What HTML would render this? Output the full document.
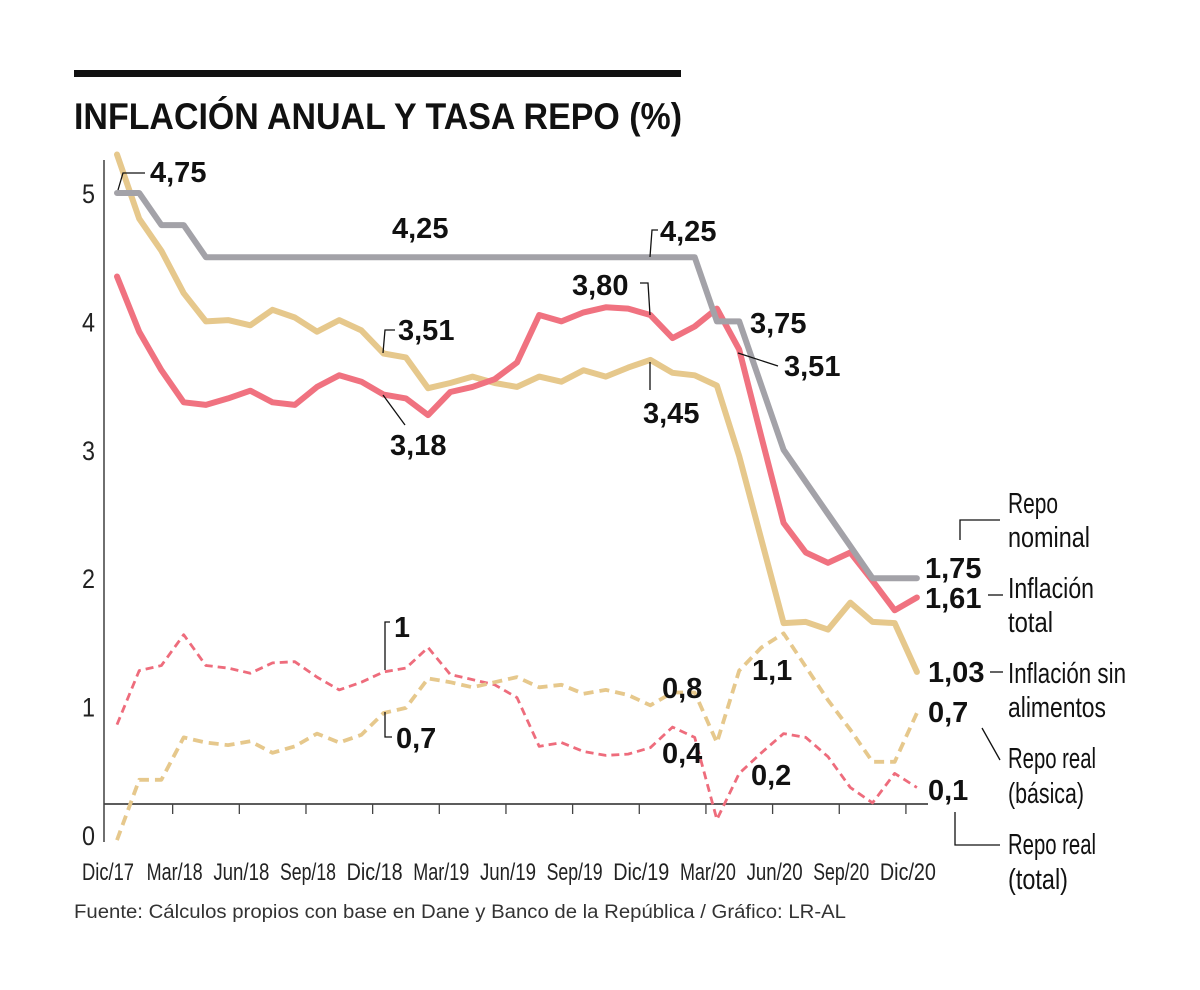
<!DOCTYPE html>
<html><head><meta charset="utf-8"><style>
body{margin:0;background:#fff;}
svg{display:block;font-family:"Liberation Sans",sans-serif;}
.ann{font-weight:bold;font-size:29px;fill:#111;}
.lab{font-size:29px;fill:#111;}
.ld{stroke:#111;stroke-width:1.3;fill:none;}
</style></head><body>
<svg id="chart" width="1200" height="990" viewBox="0 0 1200 990">
<rect x="74" y="70" width="607" height="7" fill="#111"/>
<text x="74" y="129" font-size="37" font-weight="bold" fill="#111" textLength="608" lengthAdjust="spacingAndGlyphs">INFLACIÓN ANUAL Y TASA REPO (%)</text>
<line x1="104" y1="160" x2="104" y2="842" stroke="#222" stroke-width="1.3"/>
<line x1="104" y1="804" x2="928" y2="804" stroke="#444" stroke-width="1.8"/>
<g id="yticks" font-size="27" fill="#222"></g>
<g id="xticks" font-size="24" fill="#222"></g>
<g id="series"></g>
<g>
<path class="ld" d="M118 190 L123 173 L145 173"/>
<text class="ann" x="150" y="182">4,75</text>
<text class="ann" x="392" y="238">4,25</text>
<path class="ld" d="M650 257 L652 230 L658 230"/>
<text class="ann" x="660" y="241">4,25</text>
<path class="ld" d="M383 353 L385 330 L395 330"/>
<text class="ann" x="398" y="340">3,51</text>
<path class="ld" d="M383 395 L405 425"/>
<text class="ann" x="390" y="455">3,18</text>
<path class="ld" d="M640 283 L648 283 L650 315"/>
<text class="ann" x="572" y="295">3,80</text>
<path class="ld" d="M650 362 L650 390"/>
<text class="ann" x="643" y="423">3,45</text>
<text class="ann" x="750" y="333">3,75</text>
<path class="ld" d="M738 353 L778 366"/>
<text class="ann" x="784" y="376">3,51</text>
<text class="ann" x="925" y="578">1,75</text>
<text class="ann" x="925" y="608">1,61</text>
<text class="ann" x="928" y="682">1,03</text>
<text class="ann" x="928" y="722">0,7</text>
<text class="ann" x="928" y="800">0,1</text>
<path class="ld" d="M385 670 L385 622 L390 622"/>
<text class="ann" x="394" y="637" textLength="16" lengthAdjust="spacingAndGlyphs">1</text>
<path class="ld" d="M385 712 L385 737 L392 737"/>
<text class="ann" x="396" y="748">0,7</text>
<text class="ann" x="662" y="698">0,8</text>
<text class="ann" x="662" y="763">0,4</text>
<text class="ann" x="752" y="680">1,1</text>
<text class="ann" x="751" y="785">0,2</text>
<path class="ld" d="M960 540 L960 520 L1000 520"/>
<path class="ld" d="M988 595 L1003 595"/>
<path class="ld" d="M990 672 L1003 672"/>
<path class="ld" d="M982 728 L1000 760"/>
<path class="ld" d="M955 812 L955 845 L1000 845"/>
</g>
<g class="lab">
<text x="1008" y="513" textLength="50" lengthAdjust="spacingAndGlyphs">Repo</text>
<text x="1008" y="547" textLength="82" lengthAdjust="spacingAndGlyphs">nominal</text>
<text x="1008" y="598" textLength="86" lengthAdjust="spacingAndGlyphs">Inflación</text>
<text x="1008" y="632" textLength="45" lengthAdjust="spacingAndGlyphs">total</text>
<text x="1008" y="683" textLength="118" lengthAdjust="spacingAndGlyphs">Inflación sin</text>
<text x="1008" y="717" textLength="98" lengthAdjust="spacingAndGlyphs">alimentos</text>
<text x="1008" y="768" textLength="88" lengthAdjust="spacingAndGlyphs">Repo real</text>
<text x="1008" y="803" textLength="76" lengthAdjust="spacingAndGlyphs">(básica)</text>
<text x="1008" y="854" textLength="88" lengthAdjust="spacingAndGlyphs">Repo real</text>
<text x="1008" y="889" textLength="60" lengthAdjust="spacingAndGlyphs">(total)</text>
</g>
<text x="74" y="918" font-size="19" fill="#333" textLength="772" lengthAdjust="spacingAndGlyphs">Fuente: Cálculos propios con base en Dane y Banco de la República / Gráfico: LR-AL</text>
</svg>
<script>
const xLabels=["Dic/17","Mar/18","Jun/18","Sep/18","Dic/18","Mar/19","Jun/19","Sep/19","Dic/19","Mar/20","Jun/20","Sep/20","Dic/20"];
const yTicks=[0,1,2,3,4,5];
const repoNominal=[5,5,4.75,4.75,4.5,4.5,4.5,4.5,4.5,4.5,4.5,4.5,4.5,4.5,4.5,4.5,4.5,4.5,4.5,4.5,4.5,4.5,4.5,4.5,4.5,4.5,4.5,4,4,3.5,3,2.75,2.5,2.25,2,2,2];
const inflTotal=[4.35,3.92,3.62,3.37,3.35,3.4,3.46,3.37,3.35,3.49,3.58,3.53,3.43,3.4,3.27,3.45,3.49,3.55,3.68,4.05,4.0,4.07,4.11,4.1,4.05,3.87,3.96,4.1,3.78,3.1,2.43,2.2,2.12,2.2,1.98,1.75,1.85];
const inflSinAlim=[5.3,4.8,4.55,4.22,4.0,4.01,3.97,4.09,4.03,3.92,4.01,3.93,3.75,3.72,3.48,3.52,3.57,3.52,3.49,3.57,3.53,3.62,3.57,3.64,3.7,3.6,3.58,3.5,2.95,2.3,1.65,1.66,1.6,1.81,1.66,1.65,1.27];
const repoRealTotal=[0.86,1.28,1.32,1.56,1.32,1.3,1.26,1.34,1.35,1.23,1.13,1.19,1.27,1.3,1.46,1.25,1.21,1.17,1.07,0.69,0.72,0.65,0.62,0.63,0.68,0.84,0.76,0.12,0.48,0.64,0.79,0.76,0.61,0.37,0.25,0.48,0.37];
const repoRealBasica=[-0.04,0.43,0.43,0.76,0.72,0.7,0.73,0.64,0.69,0.79,0.72,0.78,0.95,0.99,1.22,1.19,1.15,1.19,1.23,1.15,1.17,1.1,1.13,1.09,1.01,1.11,1.11,0.72,1.28,1.46,1.57,1.31,1.05,0.82,0.57,0.57,0.95];
const NS="http://www.w3.org/2000/svg";
const x=i=>117+i*22.22;
const y=v=>835-128.4*v;
const yt=document.getElementById('yticks');
yTicks.forEach(t=>{const e=document.createElementNS(NS,'text');


e.setAttribute('x',82);e.setAttribute('y',y(t)+10);e.setAttribute('textLength',13);e.setAttribute('lengthAdjust','spacingAndGlyphs');e.textContent=t;yt.appendChild(e);});
const xt=document.getElementById('xticks');
xLabels.forEach((l,k)=>{const cx=x(k*3);
const e=document.createElementNS(NS,'text');


e.setAttribute('x',cx-9);e.setAttribute('y',880);e.setAttribute('text-anchor','middle');e.setAttribute('textLength',k==0?52:56);e.setAttribute('lengthAdjust','spacingAndGlyphs');e.textContent=l;xt.appendChild(e);
if(k>0){const t=document.createElementNS(NS,'line');


t.setAttribute('x1',cx-11);t.setAttribute('x2',cx-11);t.setAttribute('y1',804);t.setAttribute('y2',814);t.setAttribute('stroke','#444');t.setAttribute('stroke-width',1.3);xt.appendChild(t);}});
const sg=document.getElementById('series');
function line(arr,color,w,dash){const p=document.createElementNS(NS,'polyline');
p.setAttribute('points',arr.map((v,i)=>x(i).toFixed(1)+','+y(v).toFixed(1)).join(' '));
p.setAttribute('fill','none');p.setAttribute('stroke',color);p.setAttribute('stroke-width',w);p.setAttribute('stroke-linejoin','round');p.setAttribute('stroke-linecap',dash?'butt':'round');
if(dash)p.setAttribute('stroke-dasharray',dash);
sg.appendChild(p);return p;}
let p;
p=line(repoRealTotal,'#ee6c7c',2.8,'8,5');


p=line(repoRealBasica,'#e6c88c',3.8,'10,6');


p=line(inflSinAlim,'#e6c88c',6,null);


p=line(inflTotal,'#f07280',6,null);


p=line(repoNominal,'#a3a2a8',6,null);


</script>
</body></html>
